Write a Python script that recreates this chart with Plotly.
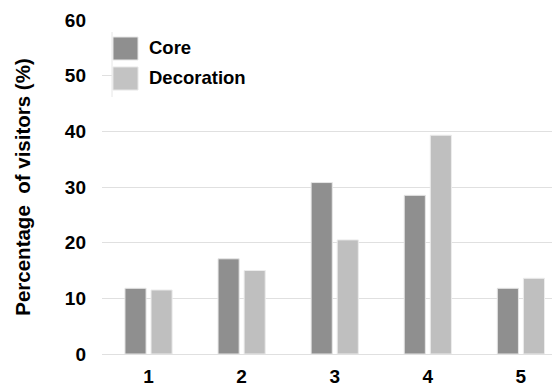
import plotly.graph_objects as go

categories = ["1", "2", "3", "4", "5"]
core = [11.8, 17.1, 30.8, 28.5, 11.8]
decoration = [11.5, 15.0, 20.5, 39.3, 13.6]
y_ticks = [0, 10, 20, 30, 40, 50, 60]

font = "Liberation Sans, Arial, sans-serif"

# page has an 8px body margin; the figure is sized to fill 560x392 exactly
W, H = 552, 384
L, R, T, B = 94, 0, 12, 38
PW, PH = W - L - R, H - T - B  # 458 x 334


def px(x):  # page x pixel -> paper
    return (x - 8 - L) / PW


def py(y):  # page y pixel -> paper
    return (H - B - (y - 8)) / PH


fig = go.Figure()
fig.add_trace(go.Bar(x=categories, y=core, name="Core",
                     marker=dict(color="#8f8f8f", line=dict(color="#e6e6e6", width=1))))
fig.add_trace(go.Bar(x=categories, y=decoration, name="Decoration",
                     marker=dict(color="#bfbfbf", line=dict(color="#ececec", width=1))))

fig.update_layout(
    width=W, height=H,
    margin=dict(l=L, r=R, t=T, b=B),
    plot_bgcolor="white", paper_bgcolor="white",
    showlegend=False,
    barmode="group", bargap=0.44, bargroupgap=0.19,
    font=dict(family=font, color="black"),
)
fig.update_xaxes(
    type="category", range=[-0.5, 4.42],
    tickfont=dict(size=19, family=font, color="black", weight="bold"),
    ticklabelstandoff=9,
    showgrid=False, showline=False, ticks="",
)
fig.update_yaxes(
    range=[0, 60], tickvals=y_ticks,
    tickfont=dict(size=19, family=font, color="black", weight="bold"),
    ticklabelstandoff=15,
    showgrid=True, gridcolor="#e0e0e0", gridwidth=1,
    zeroline=True, zerolinecolor="#e0e0e0", zerolinewidth=1,
    title=dict(text="Percentage  of visitors (%)",
               font=dict(size=20.5, family=font, color="black", weight="bold"), standoff=28),
)

# legend drawn inside plot area
fig.add_shape(type="rect", xref="paper", yref="paper", x0=px(112), x1=1, y0=py(97), y1=py(32),
              fillcolor="white", line=dict(width=0), layer="above")
fig.add_shape(type="line", xref="paper", yref="paper", x0=px(112), x1=px(112), y0=py(97), y1=py(32),
              line=dict(color="#e6e6e6", width=1), layer="above")
for i, (name, col) in enumerate([("Core", "#8f8f8f"), ("Decoration", "#c3c3c3")]):
    yc = 48.5 + i * 30
    fig.add_shape(type="rect", xref="paper", yref="paper",
                  x0=px(113), x1=px(138), y0=py(yc + 11.5), y1=py(yc - 11.5),
                  fillcolor=col, line=dict(color="#e6e6e6", width=1), layer="above")
    fig.add_annotation(xref="paper", yref="paper", x=px(147), y=py(yc - 1), text=name,
                       showarrow=False, xanchor="left", yanchor="middle",
                       font=dict(size=18.5, family=font, color="black", weight="bold"))

fig.write_html("out.html")
